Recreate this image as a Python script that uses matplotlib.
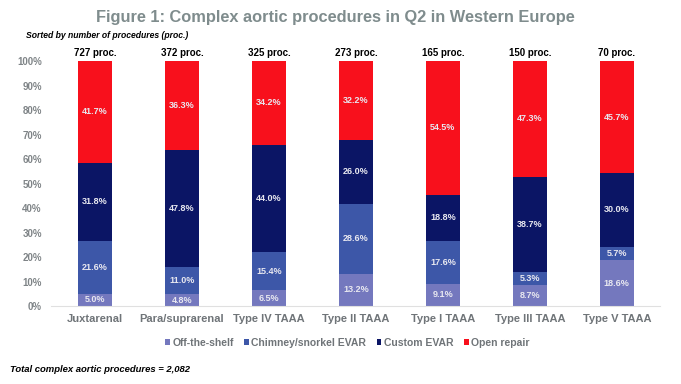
import matplotlib
matplotlib.use("Agg")
import matplotlib.pyplot as plt
import numpy as np

plt.rcParams['font.family'] = ['Liberation Sans', 'DejaVu Sans']

categories = ["Juxtarenal", "Para/suprarenal", "Type IV TAAA", "Type II TAAA",
              "Type I TAAA", "Type III TAAA", "Type V TAAA"]
totals = [727, 372, 325, 273, 165, 150, 70]
off_the_shelf = [5.0, 4.8, 6.5, 13.2, 9.1, 8.7, 18.6]
chimney = [21.6, 11.0, 15.4, 28.6, 17.6, 5.3, 5.7]
custom = [31.8, 47.8, 44.0, 26.0, 18.8, 38.7, 30.0]
open_repair = [41.7, 36.3, 34.2, 32.2, 54.5, 47.3, 45.7]
series_names = ["Off-the-shelf", "Chimney/snorkel EVAR", "Custom EVAR", "Open repair"]
colors = ["#7478BE", "#3D57A8", "#0B1565", "#F8101C"]

fig = plt.figure(figsize=(6.81, 3.84), dpi=100)
ax = fig.add_axes([0.0756, 0.203, 0.894, 0.638])

x = np.arange(len(categories))
width = 0.39
series = [off_the_shelf, chimney, custom, open_repair]
bottom = np.zeros(len(categories))
for vals, col, name in zip(series, colors, series_names):
    vals = np.array(vals)
    ax.bar(x, vals, width, bottom=bottom, color=col, label=name)
    for xi, b, v in zip(x, bottom, vals):
        ax.text(xi, b + v / 2, f"{v:.1f}%", ha='center', va='center',
                color='#E8E8F0', fontsize=6.5, fontweight='bold')
    bottom = bottom + vals

for xi, t, top in zip(x, totals, bottom):
    ax.text(xi, min(top, 100) + 1.2, f"{t} proc.", ha='center', va='bottom',
            fontsize=7, fontweight='bold', color='black')

ax.set_xlim(-0.5, len(categories) - 0.5)
ax.set_ylim(0, 100)
ax.set_yticks(np.arange(0, 101, 10))
ax.set_yticklabels([f"{v}%" for v in range(0, 101, 10)])
ax.set_xticks(x)
ax.set_xticklabels(categories)
for lbl in ax.get_yticklabels():
    lbl.set_color('#7F8487'); lbl.set_fontsize(7); lbl.set_fontweight('bold')
for lbl in ax.get_xticklabels():
    lbl.set_color('#6F7478'); lbl.set_fontsize(8); lbl.set_fontweight('bold')
ax.tick_params(axis='both', length=0)
ax.tick_params(axis='y', pad=7)
ax.tick_params(axis='x', pad=6)
for s in ['top', 'right', 'left']:
    ax.spines[s].set_visible(False)
ax.spines['bottom'].set_color('#E0E0E0')
ax.spines['bottom'].set_linewidth(0.8)

handles, labels = ax.get_legend_handles_labels()
leg = fig.legend(handles, labels, loc='center', bbox_to_anchor=(0.51, 0.108),
                 ncol=4, frameon=False, fontsize=7.5, handlelength=0.45, handleheight=0.45,
                 handletextpad=0.25, columnspacing=1.0)
for t in leg.get_texts():
    t.set_color('#6F7478'); t.set_fontweight('bold')

fig.text(0.492, 0.955, "Figure 1: Complex aortic procedures in Q2 in Western Europe",
         ha='center', va='center', fontsize=11.8, fontweight='bold', color='#7F8C8D')
fig.text(0.038, 0.908, "Sorted by number of procedures (proc.)", ha='left', va='center',
         fontsize=6.2, fontweight='bold', style='italic', color='black')
fig.text(0.015, 0.038, "Total complex aortic procedures = 2,082", ha='left', va='center',
         fontsize=6.8, fontweight='bold', style='italic', color='black')

fig.savefig("out.png", dpi=100)
